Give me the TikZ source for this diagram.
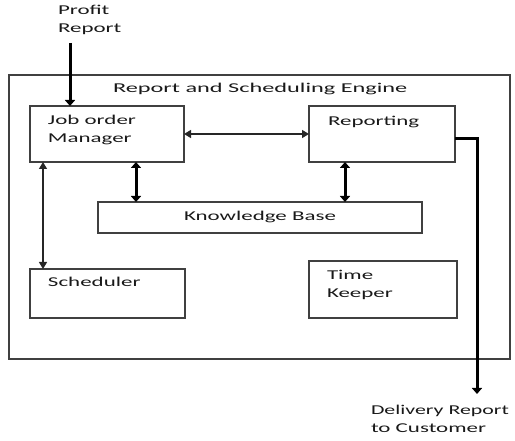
\documentclass[tikz,border=0pt]{standalone}
\usepackage{fontspec}
\setmainfont{Carlito}[FakeStretch=1.7]
\usetikzlibrary{arrows.meta}
\begin{document}
\begin{tikzpicture}[x=1pt,y=-1pt,
  box/.style={draw=black!75,line width=1.2pt,inner sep=0pt,outer sep=0pt},
  txt/.style={inner sep=0pt,outer sep=0pt,anchor=base west,align=left,font=\fontsize{13.5}{18}\selectfont,text=black!90},
  thinarr/.style={draw=black!85,line width=1.4pt,{Triangle[length=7pt,width=8pt]}-{Triangle[length=7pt,width=8pt]}},
  thickarr/.style={draw=black,line width=3pt,{Triangle[length=6pt,width=10pt]}-{Triangle[length=6pt,width=10pt]}},
  onearr/.style={draw=black,line width=3pt,-{Triangle[length=6pt,width=10pt]}}]
\useasboundingbox (0,0) rectangle (515,441);
% outer engine box
\node[box,minimum width=501pt,minimum height=284pt] (engine) at (259.5,217) {};
\node[txt] (title) at (113,93) {\addfontfeature{FakeStretch=1.8}Report and Scheduling Engine};
% boxes
\node[box,minimum width=154pt,minimum height=56pt] (job) at (107,134) {};
\node[box,minimum width=146pt,minimum height=56pt] (rep) at (382,134) {};
\node[box,minimum width=324pt,minimum height=31pt] (kb) at (260,217.5) {};
\node[box,minimum width=155pt,minimum height=49pt] (sch) at (107.5,293.5) {};
\node[box,minimum width=148pt,minimum height=57pt] (tk) at (383,289.5) {};
% texts (base = last line)
\node[txt] (jobt) at (48,143) {Job order\\Manager};
\node[txt] (rept) at (328,126) {Reporting};
\node[txt,anchor=base] (kbt) at (260,221) {Knowledge Base};
\node[txt] (scht) at (48,287) {Scheduler};
\node[txt] (tkt) at (327,298) {Time\\Keeper};
\node[txt] (profit) at (58,33) {Profit\\Report};
\node[txt] (deliv) at (371,432) {\addfontfeature{FakeStretch=1.62}Delivery Report\\to Customer};
% connectors
\coordinate (pin) at (70,43);
\draw[onearr] (pin) -- (job.north -| pin);
\draw[thinarr] (job.east) -- (rep.west);
\coordinate (lx) at (43,0);
\draw[thinarr] (job.south -| lx) -- (sch.north -| lx);
\coordinate (kx1) at (136,0);
\coordinate (kx2) at (345,0);
\draw[thickarr] (job.south -| kx1) -- (kb.north -| kx1);
\draw[thickarr] (rep.south -| kx2) -- (kb.north -| kx2);
\coordinate (dy) at (0,139);
\coordinate (dend) at (477,394);
\draw[onearr] (rep.east |- dy) -| (dend);
\end{tikzpicture}
\end{document}
